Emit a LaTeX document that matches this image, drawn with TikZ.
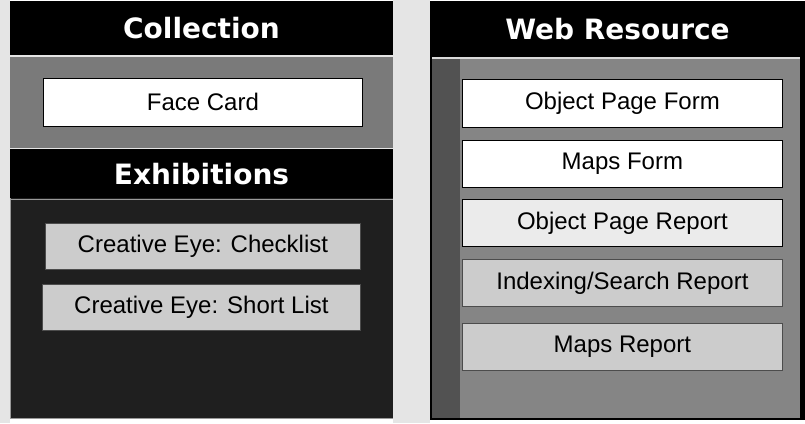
\documentclass[tikz,border=0pt]{standalone}
\usepackage{fontspec}
\setmainfont{Liberation Sans}
\newfontfamily\headfont{DejaVu Sans}
\begin{document}
\begin{tikzpicture}[x=1pt,y=-1pt,
  titlebar/.style={fill=black,text=white,font=\headfont\bfseries\fontsize{28}{30}\selectfont,inner sep=0pt},
  itembox/.style={draw=black,line width=0.8pt,font=\fontsize{24}{27}\selectfont,inner sep=0pt,anchor=north west},
  plainbox/.style={itembox,fill=white},
  speckbox/.style={itembox,fill=black!20,draw=black!70}
]
% page
\fill[white] (0,0) rectangle (805,423);
\fill[black!10] (0,0) rectangle (10,423);
\fill[black!10] (393,0) rectangle (430,423);
\useasboundingbox (0,0) rectangle (805,423);

% ---------- left column ----------
\fill[black] (10,1) rectangle (393,55);
\node[titlebar] (coll) at (201.5,28) {Collection};
\fill[black!52] (10,55) rectangle (393,148);
\draw[black!10,line width=1.5pt] (10,56) -- (393,56);
\node[plainbox,minimum width=319pt,minimum height=48pt] (face) at (43,78) {Face Card};
\fill[black] (10,148) rectangle (393,198);
\draw[black!10,line width=1.5pt] (10,148.5) -- (393,148.5);
\node[titlebar] (exh) at (201.5,174) {Exhibitions};
\fill[black!88] (10,198) rectangle (393,418);
\draw[black!40,line width=1pt] (10,199) -- (393,199) (10.5,198) -- (10.5,418) -- (393,418);
\node[speckbox,minimum width=315pt,minimum height=46pt] (check) at (45,223) {Creative Eye: Checklist};
\node[speckbox,minimum width=318pt,minimum height=46pt] (short) at (42,284) {Creative Eye: Short List};

% ---------- right column ----------
\fill[black] (430,1) rectangle (805,57);
\node[titlebar] (web) at (617.5,29) {Web Resource};
\fill[black] (430,57) rectangle (805,420);
\fill[black!48] (432,57) rectangle (800,418);
\fill[black!68] (432,57) rectangle (460,418);
\draw[black!15,line width=1.2pt] (432,58) -- (800,58);
\node[plainbox,minimum width=320pt,minimum height=48pt] (opf) at (462,79) {Object Page Form};
\node[plainbox,minimum width=320pt,minimum height=47pt] (mf) at (462,140) {Maps Form};
\node[itembox,fill=black!8,minimum width=320pt,minimum height=47pt] (opr) at (462,199) {Object Page Report};
\node[speckbox,minimum width=320pt,minimum height=47pt] (isr) at (462,259) {Indexing/Search Report};
\node[speckbox,minimum width=320pt,minimum height=47pt] (mr) at (462,323) {Maps Report};
\end{tikzpicture}
\end{document}
